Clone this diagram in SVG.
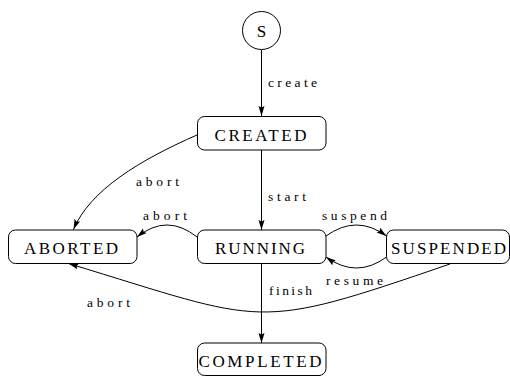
<svg xmlns="http://www.w3.org/2000/svg" width="510" height="376" viewBox="0 0 510 376">
<style>
.node{fill:#fff;stroke:#000;stroke-width:1}
.nt{font-family:"Liberation Serif","DejaVu Serif",serif;font-size:17px;fill:#000}
.lbl{font-family:"Liberation Serif","DejaVu Serif",serif;font-size:13.5px;fill:#000}
.edge{fill:none;stroke:#000;stroke-width:1;marker-end:url(#arr)}
</style>
<defs>
<marker id="arr" markerUnits="userSpaceOnUse" markerWidth="10" markerHeight="7" refX="10" refY="3.5" orient="auto">
<path d="M0,0.5 L10,3.5 L0,6.5 L1.5,3.5 z" fill="#000"/>
</marker>
</defs>
<rect width="510" height="376" fill="#fff"/>
<g id="connectors">
<path class="edge" d="M261.5,50 L261.5,116"/>
<path class="edge" d="M261.5,150 L261.5,230"/>
<path class="edge" d="M261.5,264 L261.5,343"/>
<path class="edge" d="M197,135 C140,160 90,190 73.5,229.5"/>
<path class="edge" d="M197,237 Q167,213 137,237"/>
<path class="edge" d="M326,236 Q356.5,214 386.5,236"/>
<path class="edge" d="M386.5,257 Q356.5,279 326,257"/>
<path class="edge" d="M450,264 C252,332 268,324 68.5,263.5"/>
</g>
<g id="labels">
<text class="lbl" x="268" y="87" textLength="49" lengthAdjust="spacing">create</text>
<text class="lbl" x="268" y="201" textLength="38" lengthAdjust="spacing">start</text>
<text class="lbl" x="136" y="185.5" textLength="43" lengthAdjust="spacing">abort</text>
<text class="lbl" x="143" y="220" textLength="44" lengthAdjust="spacing">abort</text>
<text class="lbl" x="87" y="306.5" textLength="43" lengthAdjust="spacing">abort</text>
<text class="lbl" x="322" y="219.5" textLength="65" lengthAdjust="spacing">suspend</text>
<text class="lbl" x="326" y="285" textLength="57" lengthAdjust="spacing">resume</text>
<text class="lbl" x="269" y="295" textLength="43" lengthAdjust="spacing">finish</text>
</g>
<g id="S">
<circle class="node" cx="261.5" cy="30.5" r="19"/>
<text class="nt" x="261.5" y="36.5" text-anchor="middle">S</text>
</g>
<g id="CREATED">
<rect class="node" x="197.5" y="116.5" width="128.5" height="33.5" rx="7"/>
<text class="nt" x="214.5" y="141" textLength="92" lengthAdjust="spacing">CREATED</text>
</g>
<g id="RUNNING">
<rect class="node" x="197.5" y="230" width="128.5" height="33.5" rx="7"/>
<text class="nt" x="215" y="254" textLength="90" lengthAdjust="spacing">RUNNING</text>
</g>
<g id="ABORTED">
<rect class="node" x="8.5" y="230" width="128.5" height="33.5" rx="7"/>
<text class="nt" x="24" y="254" textLength="94" lengthAdjust="spacing">ABORTED</text>
</g>
<g id="SUSPENDED">
<rect class="node" x="386.5" y="230" width="123" height="33.5" rx="7"/>
<text class="nt" x="391" y="254" textLength="115" lengthAdjust="spacing">SUSPENDED</text>
</g>
<g id="COMPLETED">
<rect class="node" x="197.5" y="343" width="128.5" height="32.5" rx="7"/>
<text class="nt" x="198.5" y="367" textLength="123" lengthAdjust="spacing">COMPLETED</text>
</g>
</svg>
